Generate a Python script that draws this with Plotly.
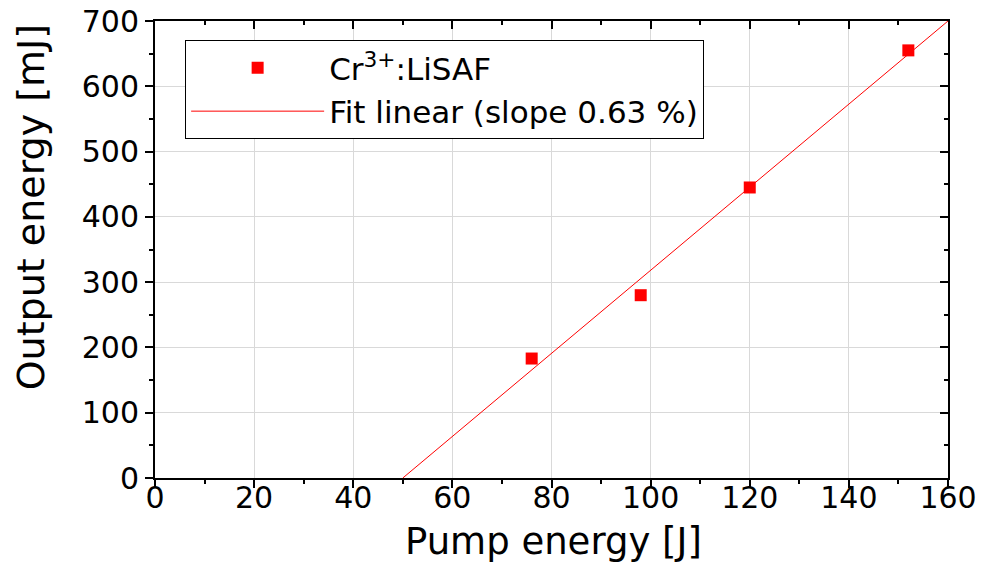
import plotly.graph_objects as go

pump_energy = [76, 98, 120, 152]
output_energy = [183, 280, 445, 655]
fit_x = [50, 160]
fit_y = [0, 700]

x_ticks = [0, 20, 40, 60, 80, 100, 120, 140, 160]
y_ticks = [0, 100, 200, 300, 400, 500, 600, 700]

x_title = "Pump energy [J]"
y_title = "Output energy [mJ]"

FONT = "DejaVu Sans, Liberation Sans, Arial, sans-serif"

fig = go.Figure()
fig.add_trace(go.Scatter(
    x=pump_energy, y=output_energy, mode="markers",
    name="Cr<sup>3+</sup>:LiSAF",
    marker=dict(symbol="square", size=12, color="#ff0000"),
))
fig.add_trace(go.Scatter(
    x=fit_x, y=fit_y, mode="lines",
    name="Fit linear (slope 0.63 %)",
    line=dict(color="#ff0000", width=1),
))
# invisible trace for mirrored axes
fig.add_trace(go.Scatter(x=fit_x, y=fit_y, xaxis="x2", yaxis="y2",
                         mode="lines", line=dict(width=0), showlegend=False,
                         hoverinfo="skip", opacity=0))

axis_common = dict(showline=True, linecolor="black", linewidth=2,
                   zeroline=False, automargin=False)
fig.update_layout(
    width=984, height=564,
    margin=dict(l=155, r=36, t=21, b=86),
    paper_bgcolor="white", plot_bgcolor="white",
    font=dict(family=FONT, color="black"),
    xaxis=dict(range=[0, 160], tickvals=x_ticks, ticks="outside", ticklen=8,
               tickwidth=2, tickcolor="black",
               tickfont=dict(size=30), showgrid=True, gridcolor="#d9d9d9",
               gridwidth=1, ticklabelstandoff=-16,
               minor=dict(dtick=10, ticks="outside", ticklen=4, tickwidth=2,
                          tickcolor="black", showgrid=False),
               **axis_common),
    yaxis=dict(range=[0, 700], tickvals=y_ticks, ticks="outside", ticklen=8,
               tickwidth=2, tickcolor="black",
               tickfont=dict(size=30), showgrid=True, gridcolor="#d9d9d9",
               gridwidth=1,
               minor=dict(dtick=50, ticks="outside", ticklen=4, tickwidth=2,
                          tickcolor="black", showgrid=False),
               **axis_common),
    xaxis2=dict(range=[0, 160], overlaying="x", side="top", anchor="y",
                tickvals=x_ticks, ticks="inside", ticklen=8, tickwidth=2,
                tickcolor="black", showticklabels=False, showgrid=False,
                minor=dict(dtick=10, ticks="inside", ticklen=4, tickwidth=2,
                           tickcolor="black"),
                **axis_common),
    yaxis2=dict(range=[0, 700], overlaying="y", side="right", anchor="x",
                tickvals=y_ticks, ticks="inside", ticklen=8, tickwidth=2,
                tickcolor="black", showticklabels=False, showgrid=False,
                minor=dict(dtick=50, ticks="inside", ticklen=4, tickwidth=2,
                           tickcolor="black"),
                **axis_common),
    legend=dict(x=0.038, y=0.958, xanchor="left", yanchor="top",
                bgcolor="white", bordercolor="black", borderwidth=1,
                font=dict(size=31), itemwidth=133, tracegroupgap=0),
    showlegend=True,
    annotations=[
        dict(text=x_title, xref="paper", yref="paper", x=0.502, y=-0.138,
             xanchor="center", yanchor="middle", showarrow=False,
             font=dict(size=37)),
        dict(text=y_title, xref="paper", yref="paper", x=-0.156, y=0.593,
             xanchor="center", yanchor="middle", showarrow=False,
             textangle=-90, font=dict(size=38)),
    ],
)

fig.write_html("out.html")
